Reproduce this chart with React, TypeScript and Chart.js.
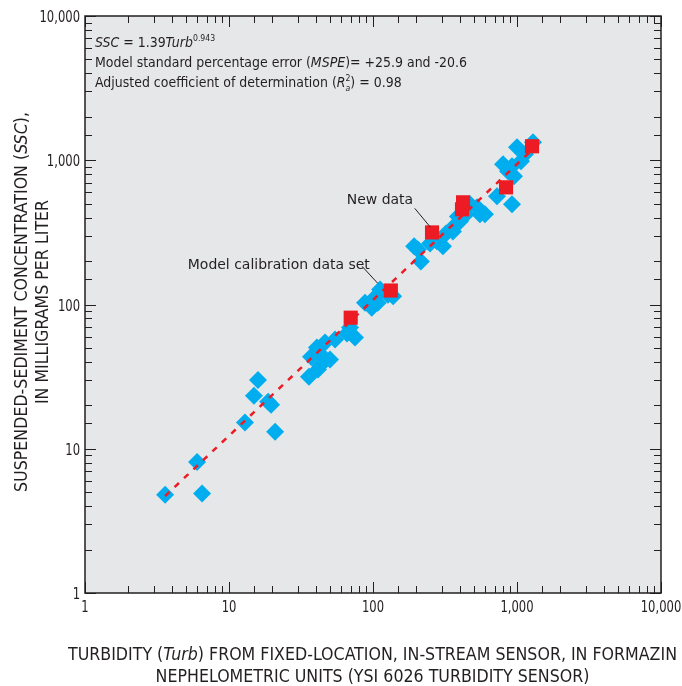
import React, { useEffect, useRef } from 'react';
import { Chart, registerables } from 'chart.js';

Chart.register(...registerables);

// ---- Data ----
const calibTurb = [
  3.6, 6.0, 6.5, 12.9, 14.9, 15.9, 18.7, 19.6, 20.9,
  35.9, 37.1, 40.8, 42.9, 45, 41.5, 46.4, 50.3, 54.5, 66, 69.2, 75,
  88, 98, 103, 108, 112, 127, 138,
  193, 205, 215, 249, 278, 306, 321, 359, 371, 389, 402, 442, 472, 528, 553,
  599, 726, 800, 866, 923, 923, 953, 1000, 1066, 1136, 1292,
];
const calibSSC = [
  4.8, 8.1, 4.9, 15.2, 23.3, 30, 21.2, 20.2, 13.1,
  31.6, 43.5, 50.3, 37.7, 43.5, 35.4, 54.5, 41.5, 57.2, 62.9, 69.2, 59,
  103, 95, 112, 103, 127, 117, 114,
  253, 241, 199, 265, 274, 253, 311, 321, 354, 408, 377, 422, 495, 472, 422,
  422, 562, 937, 839, 495, 908, 774, 1230, 984, 1101, 1334,
];
const newTurb = [70, 133, 257, 415, 422, 839, 1271];
const newSSC = [81, 125, 316, 457, 511, 649, 1250];
const modelTurb = [3.6, 1400];
const modelSSC = [4.7, 1290];
const tickValues = [1, 10, 100, 1000, 10000];
const tickLabels = ['1', '10', '100', '1,000', '10,000'];

// ---- Styles ----
const FAM = "'Liberation Sans Narrow', 'DejaVu Sans Condensed', 'Arial Narrow', 'DejaVu Sans', sans-serif";
const TXT = '#231f20';
const BLUE = '#00aeef';
const RED = '#ed1c24';
const BG = '#e6e7e8';

type Run = { t: string; it?: boolean; sup?: boolean; sub?: boolean; noAdv?: boolean };

function fontFor(r: Run, size: number) {
  const s = r.sup || r.sub ? size * 0.62 : size;
  return `${r.it ? 'italic ' : ''}${s}px ${FAM}`;
}
function runsWidth(ctx: CanvasRenderingContext2D, runs: Run[], size: number) {
  let w = 0;
  for (const r of runs) {
    ctx.font = fontFor(r, size);
    if (!r.noAdv) w += ctx.measureText(r.t).width;
  }
  return w;
}
function drawRuns(
  ctx: CanvasRenderingContext2D, runs: Run[], size: number, sx: number,
  x: number, y: number, align: 'left' | 'center' | 'right'
) {
  const w = runsWidth(ctx, runs, size) * sx;
  const x0 = align === 'center' ? x - w / 2 : align === 'right' ? x - w : x;
  ctx.save();
  ctx.translate(x0, y);
  ctx.scale(sx, 1);
  ctx.fillStyle = TXT;
  ctx.textBaseline = 'alphabetic';
  ctx.textAlign = 'left';
  let ox = 0;
  for (const r of runs) {
    ctx.font = fontFor(r, size);
    const dy = r.sup ? -size * 0.42 : r.sub ? size * 0.28 : 0;
    ctx.fillText(r.t, ox, dy);
    if (!r.noAdv) ox += ctx.measureText(r.t).width;
  }
  ctx.restore();
}

const eqLines: Run[][] = [
  [{ t: 'SSC', it: true }, { t: ' = 1.39' }, { t: 'Turb', it: true }, { t: '0.943', sup: true }],
  [{ t: 'Model standard percentage error (' }, { t: 'MSPE', it: true }, { t: ')= +25.9 and -20.6' }],
  [{ t: 'Adjusted coefficient of determination (' }, { t: 'R', it: true }, { t: '2', sup: true, noAdv: true }, { t: 'a', sub: true, it: true }, { t: ') = 0.98' }],
];
const xTitle: Run[][] = [
  [{ t: 'TURBIDITY (' }, { t: 'Turb', it: true }, { t: ') FROM FIXED-LOCATION, IN-STREAM SENSOR, IN FORMAZIN' }],
  [{ t: 'NEPHELOMETRIC UNITS (YSI 6026 TURBIDITY SENSOR)' }],
];
const yTitle: Run[][] = [
  [{ t: 'SUSPENDED-SEDIMENT CONCENTRATION (' }, { t: 'SSC', it: true }, { t: '),' }],
  [{ t: 'IN MILLIGRAMS PER LITER' }],
];
const newLabel: Run[] = [{ t: 'New data' }];
const calLabel: Run[] = [{ t: 'Model calibration data set' }];

// annotation anchors in data space
const newLabelAt = { x: 190, y: 543 };
const newLeader = [{ x: 195, y: 464 }, { x: 250, y: 344 }];
const calLabelAt = { x: 95, y: 190 };
const calLeader = [{ x: 84, y: 184 }, { x: 108, y: 140 }];

const decorPlugin = {
  id: 'decor',
  beforeDraw(chart: any) {
    const { ctx, chartArea: a } = chart;
    ctx.save();
    ctx.fillStyle = '#ffffff';
    ctx.fillRect(0, 0, chart.width, chart.height);
    ctx.fillStyle = BG;
    ctx.fillRect(a.left, a.top, a.right - a.left, a.bottom - a.top);
    ctx.restore();
  },
  afterDraw(chart: any) {
    const { ctx, chartArea: a } = chart;
    const xs = chart.scales.x;
    const ys = chart.scales.y;
    ctx.save();
    ctx.strokeStyle = TXT;
    ctx.lineWidth = 1;
    const isMajor = (v: number) => Math.abs(Math.log10(v) - Math.round(Math.log10(v))) < 1e-6;
    for (const t of xs.ticks) {
      const p = Math.round(xs.getPixelForValue(t.value)) + 0.5;
      const L = isMajor(t.value) ? 11 : 7;
      ctx.beginPath();
      ctx.moveTo(p, a.bottom); ctx.lineTo(p, a.bottom - L);
      ctx.moveTo(p, a.top); ctx.lineTo(p, a.top + L);
      ctx.stroke();
    }
    for (const t of ys.ticks) {
      const p = Math.round(ys.getPixelForValue(t.value)) + 0.5;
      const L = isMajor(t.value) ? 11 : 7;
      ctx.beginPath();
      ctx.moveTo(a.left, p); ctx.lineTo(a.left + L, p);
      ctx.moveTo(a.right, p); ctx.lineTo(a.right - L, p);
      ctx.stroke();
    }
    ctx.lineWidth = 1.5;
    ctx.strokeRect(a.left, a.top, a.right - a.left, a.bottom - a.top);

    // tick labels
    const tickSize = 16.5;
    const tickSx = 0.78;
    tickValues.forEach((v, i) => {
      const lab: Run[] = [{ t: tickLabels[i] }];
      drawRuns(ctx, lab, tickSize, tickSx, xs.getPixelForValue(v), a.bottom + 19, 'center');
      drawRuns(ctx, lab, tickSize, tickSx, a.left - 5, ys.getPixelForValue(v) + 6, 'right');
    });

    // equation text
    const s14 = 14;
    const sxSmall = 372 / runsWidth(ctx, eqLines[1], s14);
    const baseY = [47, 67, 87];
    eqLines.forEach((ln, i) => drawRuns(ctx, ln, s14, sxSmall, a.left + 10, baseY[i], 'left'));

    // annotations
    const sxAnn = 182 / runsWidth(ctx, calLabel, s14);
    const px = (d: { x: number; y: number }) => [xs.getPixelForValue(d.x), ys.getPixelForValue(d.y)];
    const [nx, ny] = px(newLabelAt);
    drawRuns(ctx, newLabel, s14, sxAnn, nx, ny + 5, 'right');
    const [cx, cy] = px(calLabelAt);
    drawRuns(ctx, calLabel, s14, sxAnn, cx, cy + 5, 'right');
    ctx.lineWidth = 1;
    ctx.strokeStyle = TXT;
    for (const seg of [newLeader, calLeader]) {
      const [x1, y1] = px(seg[0]);
      const [x2, y2] = px(seg[1]);
      ctx.beginPath();
      ctx.moveTo(x1, y1); ctx.lineTo(x2, y2);
      ctx.stroke();
    }

    // axis titles
    const s18 = 18;
    const sxTitle = 609 / runsWidth(ctx, xTitle[0], s18);
    const midX = (68 + 677) / 2;
    drawRuns(ctx, xTitle[0], s18, sxTitle, midX, 660, 'center');
    drawRuns(ctx, xTitle[1], s18, sxTitle, midX, 682, 'center');
    ctx.save();
    ctx.translate(0, 302);
    ctx.rotate(-Math.PI / 2);
    drawRuns(ctx, yTitle[0], s18, sxTitle, 0, 27, 'center');
    drawRuns(ctx, yTitle[1], s18, sxTitle, 0, 48, 'center');
    ctx.restore();
    ctx.restore();
  },
};

export default function App() {
  const ref = useRef<HTMLCanvasElement | null>(null);
  useEffect(() => {
    document.body.style.margin = '0';
    const canvas = ref.current!;
    const chart = new Chart(canvas, {
      type: 'scatter',
      data: {
        datasets: [
          {
            label: 'New data',
            data: newTurb.map((x, i) => ({ x, y: newSSC[i] })),
            pointStyle: 'rect',
            pointRadius: 10,
            backgroundColor: RED,
            borderWidth: 0,
            order: 0,
          },
          {
            label: 'Model',
            data: modelTurb.map((x, i) => ({ x, y: modelSSC[i] })),
            showLine: true,
            borderColor: RED,
            borderWidth: 2.5,
            borderDash: [6, 7],
            pointRadius: 0,
            order: 1,
          },
          {
            label: 'Model calibration data set',
            data: calibTurb.map((x, i) => ({ x, y: calibSSC[i] })),
            pointStyle: 'rectRot',
            pointRadius: 9,
            backgroundColor: BLUE,
            borderWidth: 0,
            order: 2,
          },
        ],
      } as any,
      options: {
        responsive: false,
        animation: false,
        layout: { padding: { top: 16, right: 21, left: 0, bottom: 0 } },
        plugins: { legend: { display: false }, tooltip: { enabled: false } },
        scales: {
          x: {
            type: 'logarithmic',
            position: 'bottom',
            min: 1,
            max: 10000,
            grid: { display: false, drawTicks: false },
            border: { display: false },
            ticks: { display: false, autoSkip: false },
            afterFit: (s: any) => { s.height = 93; },
          },
          y: {
            type: 'logarithmic',
            position: 'left',
            min: 1,
            max: 10000,
            grid: { display: false, drawTicks: false },
            border: { display: false },
            ticks: { display: false, autoSkip: false },
            afterFit: (s: any) => { s.width = 85; },
          },
        },
      } as any,
      plugins: [decorPlugin],
    });
    return () => chart.destroy();
  }, []);
  return <canvas ref={ref} width={682} height={686} style={{ display: 'block' }} />;
}
